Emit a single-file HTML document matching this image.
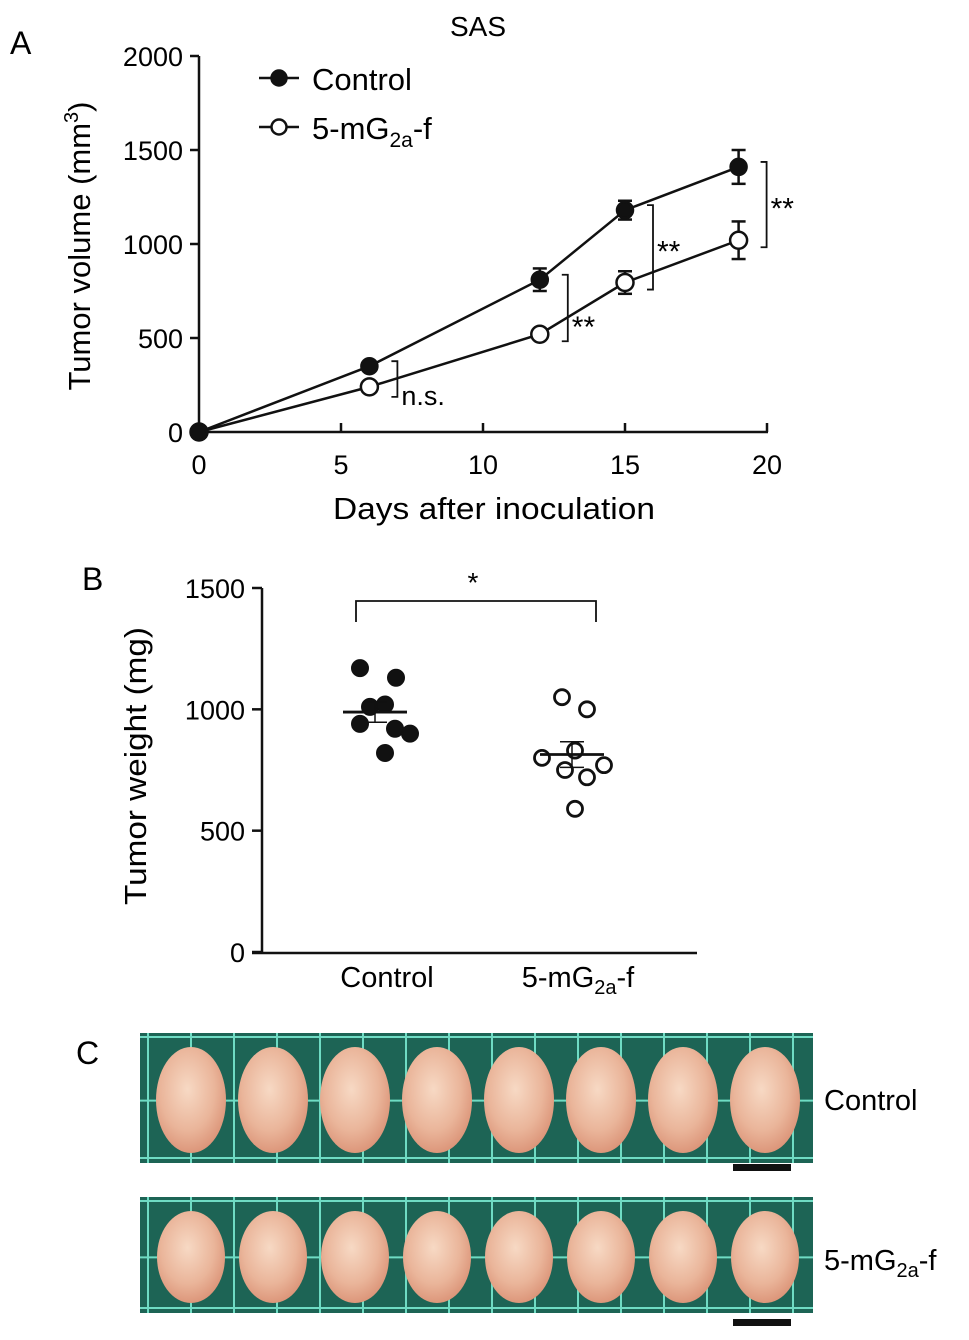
<!DOCTYPE html>
<html><head><meta charset="utf-8"><style>
html,body{margin:0;padding:0;background:#fff;}
svg{display:block;font-family:"Liberation Sans",Arial,sans-serif;}
</style></head><body>
<svg id="fig" width="969" height="1340" viewBox="0 0 969 1340" xmlns="http://www.w3.org/2000/svg">
<defs>
<radialGradient id="tum" cx="45%" cy="40%" r="65%">
<stop offset="0" stop-color="#f7d9c4"/><stop offset="0.6" stop-color="#eab59a"/><stop offset="1" stop-color="#d98f73"/>
</radialGradient>
</defs>
<text x="10" y="54" font-size="32">A</text>
<text x="478" y="36" font-size="28" text-anchor="middle">SAS</text>
<g id="chartA"></g>
<text x="82" y="590" font-size="32">B</text>
<g id="chartB"></g>
<text x="76" y="1064" font-size="32">C</text>
<g id="photos"></g>
<text x="824" y="1110" font-size="29">Control</text>
<text x="824" y="1270" font-size="29">5-mG<tspan font-size="20" dy="7">2a</tspan><tspan dy="-7">-f</tspan></text>
</svg>
<script>
const NS="http://www.w3.org/2000/svg";
function mk(parent,tag,attrs,text){const e=document.createElementNS(NS,tag);for(const k in attrs)e.setAttribute(k,attrs[k]);if(text!==undefined)e.textContent=text;parent.appendChild(e);return e;}

// ---- Panel A data ----
const daysA=[0,6,12,15,19];
const controlVol=[0,350,810,1180,1410];
const controlErr=[0,20,60,50,90];
const treatedVol=[0,240,520,795,1020];
const treatedErr=[0,20,20,60,100];
const xTicksA=[0,5,10,15,20];
const yTicksA=[0,500,1000,1500,2000];
const sigA=[{d:6,lo:240,hi:350,label:"n.s."},{d:12,lo:520,hi:810,label:"**"},{d:15,lo:795,hi:1180,label:"**"},{d:19,lo:1020,hi:1410,label:"**"}];

const ax=v=>199+v*(767-199)/20;
const ay=v=>432-v*(432-56)/2000;
const A=document.getElementById('chartA');
let e;
e=mk(A,'line',{x1:199,y1:56,x2:199,y2:433,stroke:'#111','stroke-width':2.5});


e=mk(A,'line',{x1:198,y1:432,x2:768,y2:432,stroke:'#111','stroke-width':2.5});


yTicksA.forEach(t=>{
 mk(A,'line',{x1:190,y1:ay(t),x2:199,y2:ay(t),stroke:'#111','stroke-width':2.5});
 e=mk(A,'text',{x:183,y:ay(t)+10,'font-size':27,'text-anchor':'end'},t);
 
 
});
xTicksA.forEach(t=>{
 mk(A,'line',{x1:ax(t),y1:432,x2:ax(t),y2:423,stroke:'#111','stroke-width':2.5});
 e=mk(A,'text',{x:ax(t),y:474,'font-size':27,'text-anchor':'middle'},t);
 
 
});
e=mk(A,'text',{x:494,y:519,'font-size':31,'text-anchor':'middle',textLength:322,lengthAdjust:'spacingAndGlyphs'},'Days after inoculation');


e=mk(A,'text',{x:0,y:0,'font-size':31,'text-anchor':'middle',transform:'translate(90,246) rotate(-90)'});
e.innerHTML='Tumor volume (mm<tspan font-size="20" dy="-12">3</tspan><tspan dy="12">)</tspan>';


function series(vals,errs,filled,name){
 const g=mk(A,'g',{});
 
 
 mk(g,'polyline',{points:daysA.map((d,i)=>ax(d)+','+ay(vals[i])).join(' '),fill:'none',stroke:'#111','stroke-width':2.5});
 daysA.forEach((d,i)=>{
  if(errs[i]>0){const x=ax(d);
   mk(g,'line',{x1:x,y1:ay(vals[i]-errs[i]),x2:x,y2:ay(vals[i]+errs[i]),stroke:'#111','stroke-width':2.5});
   [vals[i]-errs[i],vals[i]+errs[i]].forEach(v=>mk(g,'line',{x1:x-7,y1:ay(v),x2:x+7,y2:ay(v),stroke:'#111','stroke-width':2.5}));}
  const c=mk(g,'circle',{cx:ax(d),cy:ay(vals[i]),r:filled?8:8.5,fill:filled?'#111':'#fff',stroke:'#111','stroke-width':2.5});
  
  
 });
}
series(treatedVol,treatedErr,false,'series-5mg2af');
series(controlVol,controlErr,true,'series-control');
sigA.forEach(s=>{
 const x=ax(s.d)+(s.d===6?28:s.d===19?28:28);
 const g=mk(A,'g',{});
 
 
 const y1=ay(s.hi)+(s.d===6?-5:-5), y2=ay(s.lo)+(s.d===6?10:7);
 mk(g,'polyline',{points:`${x-6},${y1} ${x},${y1} ${x},${y2} ${x-6},${y2}`,fill:'none',stroke:'#111','stroke-width':1.8});
 mk(g,'text',{x:x+4,y:(s.d===6?y2+8:(s.d===12?y2-4:(y1+y2)/2+14)),'font-size':s.d===6?27:30},s.label);
});
// legend
[[78,true],[127,false]].forEach(([y,f])=>{
 const g=mk(A,'g',{});
 
 
 mk(g,'line',{x1:259,y1:y,x2:299,y2:y,stroke:'#111','stroke-width':2.5});
 mk(g,'circle',{cx:279,cy:y,r:7.5,fill:f?'#111':'#fff',stroke:'#111','stroke-width':2.5});
 const t=mk(g,'text',{x:312,y:y+12,'font-size':31});
 t.innerHTML=f?'Control':'5-mG<tspan font-size="21" dy="8">2a</tspan><tspan dy="-8">-f</tspan>';
});

// ---- Panel B data ----
const groupsB=['Control','5-mG2a-f'];
const controlWeights=[1170,1130,1010,1020,940,920,900,820];
const treatedWeights=[1050,1000,830,800,770,750,720,590];
const jitterCtrl=[-15,21,-5,10,-15,20,35,10];
const jitterTrt=[-10,15,3,-30,32,-7,15,3];
const yTicksB=[0,500,1000,1500];
const by=v=>952-v*(952-588)/1500;
const gx=[375,572];
const B=document.getElementById('chartB');
e=mk(B,'line',{x1:262,y1:588,x2:262,y2:954,stroke:'#111','stroke-width':2.5});


e=mk(B,'line',{x1:252,y1:953,x2:697,y2:953,stroke:'#111','stroke-width':2.5});


yTicksB.forEach(t=>{
 mk(B,'line',{x1:252,y1:by(t),x2:262,y2:by(t),stroke:'#111','stroke-width':2.5});
 e=mk(B,'text',{x:245,y:by(t)+10,'font-size':27,'text-anchor':'end'},t);
 
 
});
e=mk(B,'text',{x:387,y:987,'font-size':29,'text-anchor':'middle'},'Control');


e=mk(B,'text',{x:578,y:987,'font-size':29,'text-anchor':'middle'});
e.innerHTML='5-mG<tspan font-size="20" dy="7">2a</tspan><tspan dy="-7">-f</tspan>';


e=mk(B,'text',{x:0,y:0,'font-size':31,'text-anchor':'middle',transform:'translate(146,766) rotate(-90)',textLength:278,lengthAdjust:'spacingAndGlyphs'},'Tumor weight (mg)');


function stats(a){const m=a.reduce((s,v)=>s+v,0)/a.length;const sd=Math.sqrt(a.reduce((s,v)=>s+(v-m)*(v-m),0)/(a.length-1));return [m,sd/Math.sqrt(a.length)];}
[[controlWeights,jitterCtrl,true],[treatedWeights,jitterTrt,false]].forEach(([w,j,f],gi)=>{
 const g=mk(B,'g',{});
 
 
 w.forEach((v,i)=>{
  const c=mk(g,'circle',{cx:gx[gi]+j[i],cy:by(v),r:f?8.5:7.5,fill:f?'#111':'none',stroke:'#111','stroke-width':f?1:2.8});
  
  
 });
 const [m,se]=stats(w);
 mk(g,'line',{x1:gx[gi]-32,y1:by(m),x2:gx[gi]+32,y2:by(m),stroke:'#111','stroke-width':2.8});
 mk(g,'line',{x1:gx[gi],y1:by(m-se),x2:gx[gi],y2:by(m+se),stroke:'#111','stroke-width':1.5});
 [m-se,m+se].forEach(v=>mk(g,'line',{x1:gx[gi]-12,y1:by(v),x2:gx[gi]+12,y2:by(v),stroke:'#111','stroke-width':1.5}));
});
e=mk(B,'polyline',{points:'356,622 356,601 596,601 596,622',fill:'none',stroke:'#111','stroke-width':1.8});


mk(B,'text',{x:473,y:592,'font-size':28,'text-anchor':'middle'},'*');

// ---- Panel C photos ----
const P=document.getElementById('photos');
[[1033,1163,1167],[1197,1313,1322]].forEach(([y0,y1,sb],ri)=>{
 const g=mk(P,'g',{});
 
 
 mk(g,'rect',{x:140,y:y0,width:673,height:y1-y0,fill:'#1d6455'});
 for(let x=148;x<813;x+=43)mk(g,'line',{x1:x,y1:y0,x2:x,y2:y1,stroke:'#6fdcc4','stroke-width':2});
 [y0+4,y0+(y1-y0)*0.52,y1-5].forEach(y=>mk(g,'line',{x1:140,y1:y,x2:813,y2:y,stroke:'#6fdcc4','stroke-width':2}));
 for(let i=0;i<8;i++){
  const cx=191+i*82, cy=(y0+y1)/2+2;
  mk(g,'ellipse',{cx:cx,cy:cy,rx:ri?34:35,ry:(y1-y0)/2-12,fill:'url(#tum)'});
 }
 const s=mk(g,'rect',{x:733,y:sb-3,width:58,height:7,fill:'#111'});
 
 
});
</script>
</body></html>
